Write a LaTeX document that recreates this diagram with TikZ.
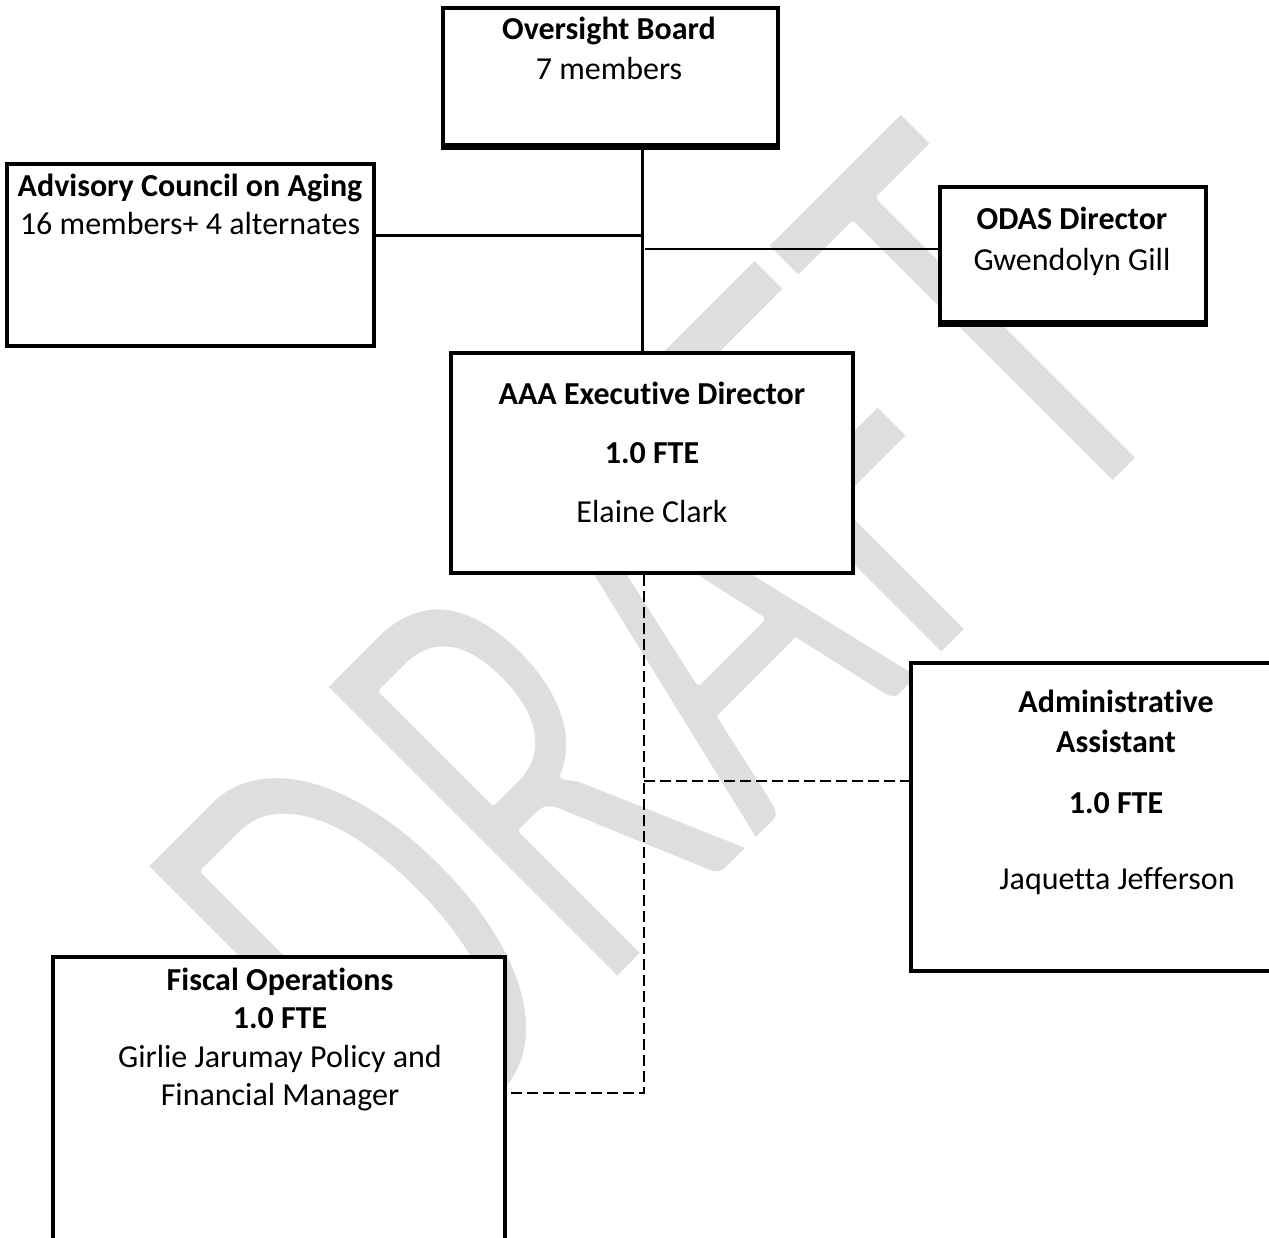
\documentclass[tikz,border=0pt]{standalone}
\usepackage{fontspec}
\setmainfont{Carlito}[Ligatures=NoCommon]
\usepackage{graphicx}
\definecolor{wmgray}{RGB}{222,222,222}
\tikzset{
  box/.style={draw, line width=3.2pt, fill=white, inner sep=0pt, rectangle},
  lbl/.style={anchor=base, inner sep=0pt, font=\fontsize{32}{36}\selectfont},
  lblb/.style={anchor=base, inner sep=0pt, font=\fontsize{32}{36}\selectfont\bfseries},
  solidline/.style={line width=3pt},
  thinline/.style={line width=1.3pt},
  dashline/.style={line width=2pt, dash pattern=on 11pt off 5pt},
  heavyedge/.style={line width=3pt},
  watermark/.style={anchor=base west, inner sep=0pt, rotate=45, text=wmgray,
    font=\fontsize{410}{410}\selectfont}
}
\begin{document}
\begin{tikzpicture}[x=1pt,y=-1pt]
\useasboundingbox (0,0) rectangle (1269,1238);
\clip (0,0) rectangle (1269,1238);
\fill[white] (0,0) rectangle (1269,1238);

% watermark
\node[watermark] (wm) at (419,1179) {\special{pdf:literal direct 2 Tr 1 1 1 RG 4.5 w 1 j}\scalebox{1}[1.58]{DRAFT}\special{pdf:literal direct 0 Tr}};

% boxes
\node[box, minimum width=335pt, minimum height=137pt] (ob) at (610.5,76.5) {};
\node[box, minimum width=367pt, minimum height=182pt] (ac) at (190.5,255) {};
\node[box, minimum width=266pt, minimum height=135pt] (od) at (1073,254.5) {};
\node[box, minimum width=402pt, minimum height=220pt] (ed) at (652,463) {};
\node[box, minimum width=411pt, minimum height=308pt] (aa) at (1116.5,817) {};
\node[box, minimum width=452pt, minimum height=300pt] (fo) at (279,1107) {};

% heavier bottom edges
\draw[heavyedge] ([yshift=-2pt]ob.south west) -- ([yshift=-2pt]ob.south east);
\draw[heavyedge] ([yshift=-1.5pt]od.south west) -- ([yshift=-1.5pt]od.south east);

% texts
\node[lblb] (ob1) at (609,40) {Oversight Board};
\node[lbl]  (ob2) at (609,80) {7 members};

\node[lblb] (ac1) at (190,197) {Advisory Council on Aging};
\node[lbl]  (ac2) at (190,235) {16 members+ 4 alternates};

\node[lblb] (od1) at (1072,230) {ODAS Director};
\node[lbl]  (od2) at (1072,271) {Gwendolyn Gill};

\node[lblb] (ed1) at (652,405) {AAA Executive Director};
\node[lblb] (ed2) at (652,463) {1.0 FTE};
\node[lbl]  (ed3) at (652,522) {Elaine Clark};

\node[lblb] (aa1) at (1116,712) {Administrative};
\node[lblb] (aa2) at (1116,752) {Assistant};
\node[lblb] (aa3) at (1116,813) {1.0 FTE};
\node[lbl]  (aa4) at (1117,889) {Jaquetta Jefferson};

\node[lblb] (fo1) at (280,990) {Fiscal Operations};
\node[lblb] (fo2) at (280,1028) {1.0 FTE};
\node[lbl]  (fo3) at (280,1067) {Girlie Jarumay Policy and};
\node[lbl]  (fo4) at (280,1105) {Financial Manager};

% junction coordinates
\coordinate (trunk) at (642,150);
\coordinate (acj) at (642,236);
\coordinate (odj) at (645,249);
\coordinate (aaj) at (644,781);
\coordinate (foj) at (644,1093);

% solid connectors
\draw[solidline] (trunk) -- (trunk |- ed.north);
\draw[solidline] (acj -| ac.east) -- (acj);
\draw[thinline] (odj) -- (odj -| od.west);

% dashed connectors
\draw[dashline] (foj |- ed.south) -- (foj) -- (foj -| fo.east);
\draw[dashline] (aaj) -- (aaj -| aa.west);
\end{tikzpicture}
\end{document}
